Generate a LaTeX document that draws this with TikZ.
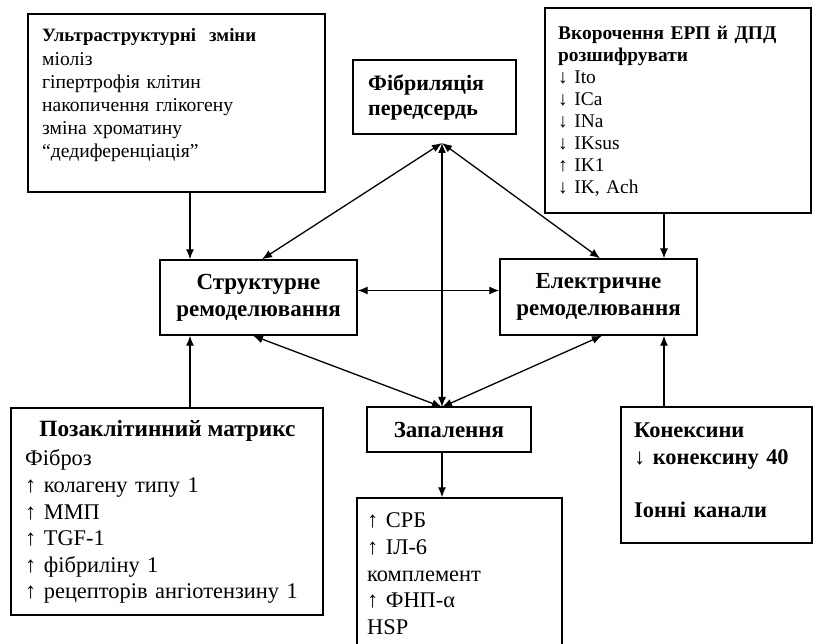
\documentclass[tikz,border=0pt]{standalone}
\usepackage{fontspec}
\setmainfont{Liberation Serif}
\usetikzlibrary{arrows.meta}
\tikzset{
  box/.style={draw, line width=1.4pt, inner sep=0pt},
  txt/.style={inner sep=0pt, align=left, anchor=base west},
  con/.style={line width=1.3pt, -{Latex[length=10pt,width=8pt]}},
  bicon/.style={line width=1.3pt, {Latex[length=10pt,width=8pt]}-{Latex[length=10pt,width=8pt]}},
  fa/.style={font=\fontsize{19.6}{23.2}\selectfont},
  fb/.style={font=\fontsize{19.4}{22}\selectfont},
  fc/.style={font=\fontsize{22.4}{26.6}\selectfont},
  fcb/.style={font=\fontsize{22.4}{26.6}\selectfont\bfseries},
  fd/.style={font=\fontsize{22}{25}\selectfont\bfseries},
  fe/.style={font=\fontsize{23}{27}\selectfont\bfseries},
}
\begin{document}
\begin{tikzpicture}[x=1pt,y=-1pt]
\useasboundingbox (0,0) rectangle (815,644);
\fill[white] (0,0) rectangle (815,644);

% boxes
\node[box, minimum width=297pt, minimum height=178pt] (ultra) at (176.5,103) {};
\node[box, minimum width=266pt, minimum height=205pt] (vkor) at (678,110.5) {};
\node[box, minimum width=163pt, minimum height=74pt] (fib) at (434.5,97) {};
\node[box, minimum width=197pt, minimum height=75pt, align=center, fe] (struct) at (258.5,297.5) {Структурне\\ремоделювання};
\node[box, minimum width=197pt, minimum height=76pt, align=center, fe] (elec) at (598.5,297) {Електричне\\ремоделювання};
\node[box, minimum width=312pt, minimum height=207pt] (matrix) at (167,511.5) {};
\node[box, minimum width=164pt, minimum height=45pt, fe] (inflam) at (449,429.5) {Запалення};
\node[box, minimum width=205pt, minimum height=152pt] (markers) at (459.5,574) {};
\node[box, minimum width=191pt, minimum height=136pt] (conn) at (716.5,475) {};

% texts
\node[txt, fa, text width=280pt] (ultratxt) at (42,42) {{\fontsize{18.8}{23.2}\selectfont\bfseries Ультраструктурні\ \ зміни}\\міоліз\\гіпертрофія клітин\\накопичення глікогену\\зміна хроматину\\“дедиференціація”};
\node[txt, fb, text width=245pt] (vkortxt) at (558,40) {\textbf{Вкорочення ЕРП й ДПД}\\\textbf{розшифрувати}\\↓ Ito\\↓ ICa\\↓ INa\\↓ IKsus\\↑ IK1\\↓ IK, Ach};
\node[txt, fd, text width=150pt] (fibtxt) at (368,91) {Фібриляція\\передсердь};
\node[inner sep=0pt, anchor=base, font=\fontsize{23.3}{26.6}\selectfont\bfseries] (mattitle) at (167.5,437) {Позаклітинний матрикс};
\node[txt, fc, text width=295pt] (mattxt) at (25,466) {Фіброз\\↑ колагену типу 1\\↑ ММП\\↑ TGF-1\\↑ фібриліну 1\\↑ рецепторів ангіотензину 1};
\node[txt, fc, text width=190pt] (marktxt) at (367,528) {↑ СРБ\\↑ ІЛ-6\\комплемент\\↑ ФНП-α\\HSP};
\node[txt, fcb, text width=175pt] (conntxt) at (634,438) {Конексини\\↓ конексину 40\\[26.6pt]Іонні канали};

% coordinates
\coordinate (F) at (442,143);
\coordinate (Z) at (442,407);

% connectors
\draw[con] ([xshift=13.5pt]ultra.south) -- ([xshift=13.5pt]ultra.south |- struct.north);
\draw[con] ([xshift=-14pt]vkor.south) -- ([xshift=-14pt]vkor.south |- elec.north);
\draw[con] ([xshift=23pt]matrix.north) -- ([xshift=23pt]matrix.north |- struct.south);
\draw[con] ([xshift=-52.5pt]conn.north) -- ([xshift=-52.5pt]conn.north |- elec.south);
\draw[bicon] (F) -- ([xshift=3.5pt]struct.north);
\draw[bicon] (F) -- ([xshift=1.5pt]elec.north);
\draw[bicon] (F) -- (Z);
\draw[bicon] ([xshift=-5.5pt]struct.south) -- (Z);
\draw[bicon] ([xshift=3.5pt]elec.south) -- (Z);
\draw[bicon] ([yshift=7pt]struct.east) -- ([yshift=7pt]struct.east -| elec.west);
\draw[con] ([xshift=-7pt]inflam.south) -- ([xshift=-7pt]inflam.south |- markers.north);
\end{tikzpicture}
\end{document}
